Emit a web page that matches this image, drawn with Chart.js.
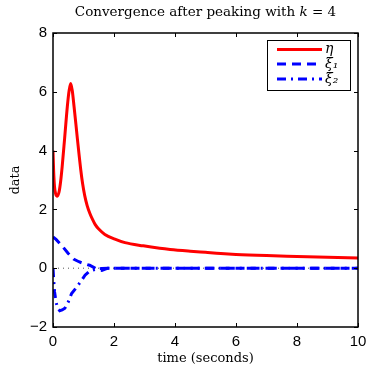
<!DOCTYPE html>
<html>
<head>
<meta charset="utf-8">
<script src="https://cdn.jsdelivr.net/npm/chart.js@4"></script>
<style>
  html, body { margin: 0; padding: 0; background: #fff; }
  #wrap { width: 367px; height: 372px; }
</style>
</head>
<body>
<div id="wrap"><canvas id="chart"></canvas></div>
<script>
// values
const etaTime = [0, 0.02, 0.05, 0.09, 0.14, 0.2, 0.25, 0.3, 0.38, 0.47, 0.53, 0.58, 0.63, 0.69, 0.8, 0.91, 0.97, 1.04, 1.12, 1.21, 1.3, 1.38, 1.5, 1.7, 2.03, 2.36, 2.96, 3.5, 3.84, 4.5, 5.0, 5.5, 6.0, 7.0, 8.0, 9.0, 10.0];
const etaValues = [4.0, 3.33, 2.77, 2.52, 2.45, 2.6, 2.95, 3.45, 4.4, 5.5, 6.05, 6.28, 6.05, 5.5, 4.4, 3.35, 2.88, 2.47, 2.13, 1.86, 1.65, 1.49, 1.33, 1.15, 0.99, 0.87, 0.76, 0.68, 0.64, 0.58, 0.54, 0.5, 0.47, 0.43, 0.4, 0.37, 0.35];

const xi1Time = [0, 0.1, 0.28, 0.5, 0.69, 0.85, 1.0, 1.2, 1.35, 1.5, 1.6, 1.8, 2.0, 10];
const xi1Values = [1.06, 0.98, 0.78, 0.5, 0.3, 0.22, 0.16, 0.1, 0.02, -0.06, -0.08, 0, 0, 0];

const xi2Time = [0, 0.02, 0.05, 0.1, 0.15, 0.22, 0.3, 0.39, 0.5, 0.61, 0.78, 0.94, 1.05, 1.2, 1.4, 1.6, 1.8, 10];
const xi2Values = [0, -0.35, -0.8, -1.15, -1.35, -1.45, -1.42, -1.36, -1.15, -0.86, -0.64, -0.41, -0.24, -0.1, -0.04, -0.01, 0, 0];

const zeroTime = [0, 10];
const zeroValues = [0, 0];

const seriesLabels = ['η', 'ξ₁', 'ξ₂'];
const xTicks = [0, 2, 4, 6, 8, 10];
const yTicks = [-2, 0, 2, 4, 6, 8];

const toPoints = (xs, ys) => xs.map((x, i) => ({ x: x, y: ys[i] }));

// title with italic k, centred over the plot box
const plotTitle = {
  id: 'plotTitle',
  afterDraw(chart) {
    const { ctx, chartArea: a } = chart;
    const parts = [
      ['Convergence after peaking with ', '13.5px "DejaVu Serif"'],
      ['k', 'italic 13.5px "DejaVu Serif"'],
      [' = 4', '13.5px "DejaVu Serif"']
    ];
    ctx.save();
    let total = 0;
    parts.forEach(p => { ctx.font = p[1]; total += ctx.measureText(p[0]).width; });
    let x = (a.left + a.right) / 2 - total / 2;
    ctx.fillStyle = '#000';
    ctx.textBaseline = 'middle';
    parts.forEach(p => {
      ctx.font = p[1];
      ctx.fillText(p[0], x, 12);
      x += ctx.measureText(p[0]).width;
    });
    ctx.restore();
  }
};

// boxed legend inside the plot, top right (matlab style)
const boxLegend = {
  id: 'boxLegend',
  afterDatasetsDraw(chart) {
    const ctx = chart.ctx;
    const left = 267, top = 40, w = 83, h = 50;
    ctx.save();
    ctx.fillStyle = '#fff';
    ctx.fillRect(left, top, w, h);
    ctx.strokeStyle = '#000';
    ctx.lineWidth = 1;
    ctx.strokeRect(left + 0.5, top + 0.5, w, h);
    const rows = [49.5, 64, 79];
    chart.data.datasets.slice(0, 3).forEach((ds, i) => {
      ctx.strokeStyle = ds.borderColor;
      ctx.lineWidth = ds.borderWidth;
      ctx.setLineDash(ds.borderDash || []);
      ctx.beginPath();
      ctx.moveTo(277, rows[i]);
      ctx.lineTo(322, rows[i]);
      ctx.stroke();
      ctx.setLineDash([]);
      ctx.fillStyle = '#000';
      ctx.font = 'italic 14px "DejaVu Serif"';
      ctx.textBaseline = 'middle';
      ctx.fillText(ds.label, 325, rows[i]);
    });
    ctx.restore();
  }
};

// frame with inward ticks on all four sides
const frame = {
  id: 'frame',
  afterDraw(chart) {
    const { ctx, chartArea: a, scales } = chart;
    ctx.save();
    ctx.strokeStyle = '#000';
    ctx.lineWidth = 1;
    ctx.beginPath();
    xTicks.forEach(v => {
      const px = Math.round(scales.x.getPixelForValue(v)) + 0.5;
      ctx.moveTo(px, a.bottom); ctx.lineTo(px, a.bottom - 4);
      ctx.moveTo(px, a.top); ctx.lineTo(px, a.top + 4);
    });
    yTicks.forEach(v => {
      const py = Math.round(scales.y.getPixelForValue(v)) + 0.5;
      ctx.moveTo(a.left, py); ctx.lineTo(a.left + 4, py);
      ctx.moveTo(a.right, py); ctx.lineTo(a.right - 4, py);
    });
    ctx.stroke();
    ctx.lineWidth = 1.5;
    ctx.strokeRect(a.left, a.top, a.right - a.left, a.bottom - a.top);
    ctx.restore();
  }
};

new Chart(document.getElementById('chart'), {
  type: 'line',
  data: {
    datasets: [{
      label: seriesLabels[0],
      data: toPoints(etaTime, etaValues),
      borderColor: '#ff0000',
      borderWidth: 3,
      cubicInterpolationMode: 'monotone',
      pointRadius: 0
    }, {
      label: seriesLabels[1],
      data: toPoints(xi1Time, xi1Values),
      borderColor: '#0000ff',
      borderWidth: 3,
      borderDash: [9, 6],
      pointRadius: 0
    }, {
      label: seriesLabels[2],
      data: toPoints(xi2Time, xi2Values),
      borderColor: '#0000ff',
      borderWidth: 3,
      borderDash: [9, 5, 2, 5],
      pointRadius: 0
    }, {
      label: 'zero',
      data: toPoints(zeroTime, zeroValues),
      borderColor: '#555',
      borderWidth: 1,
      borderDash: [1, 4],
      pointRadius: 0
    }]
  },
  options: {
    responsive: true,
    maintainAspectRatio: false,
    animation: false,
    layout: { padding: { left: 0, right: 9, top: 33, bottom: 0 } },
    plugins: {
      legend: { display: false },
      tooltip: { enabled: false },
      title: { display: false }
    },
    scales: {
      x: {
        type: 'linear',
        min: 0,
        max: 10,
        afterFit(scale) {
          scale.height = 45;
          scale.paddingLeft = 0;
          scale.paddingRight = 0;
        },
        grid: { display: false, drawTicks: false },
        border: { display: false },
        ticks: {
          stepSize: 2,
          padding: 6,
          color: '#000',
          font: { family: 'Liberation Sans', size: 15 }
        },
        title: {
          display: true,
          text: 'time (seconds)',
          color: '#000',
          font: { family: 'DejaVu Serif', size: 13 },
          padding: { top: 0, bottom: 6 }
        }
      },
      y: {
        min: -2,
        max: 8,
        afterFit(scale) {
          scale.width = 53;
          scale.paddingTop = 0;
          scale.paddingBottom = 0;
        },
        grid: { display: false, drawTicks: false },
        border: { display: false },
        ticks: {
          stepSize: 2,
          padding: 6,
          color: '#000',
          font: { family: 'Liberation Sans', size: 15 },
          callback: v => String(v).replace('-', '\u2212')
        },
        title: {
          display: true,
          text: 'data',
          color: '#000',
          font: { family: 'DejaVu Serif', size: 13 },
          padding: { top: 8, bottom: 0 }
        }
      }
    }
  },
  plugins: [plotTitle, boxLegend, frame]
});
</script>
</body>
</html>
